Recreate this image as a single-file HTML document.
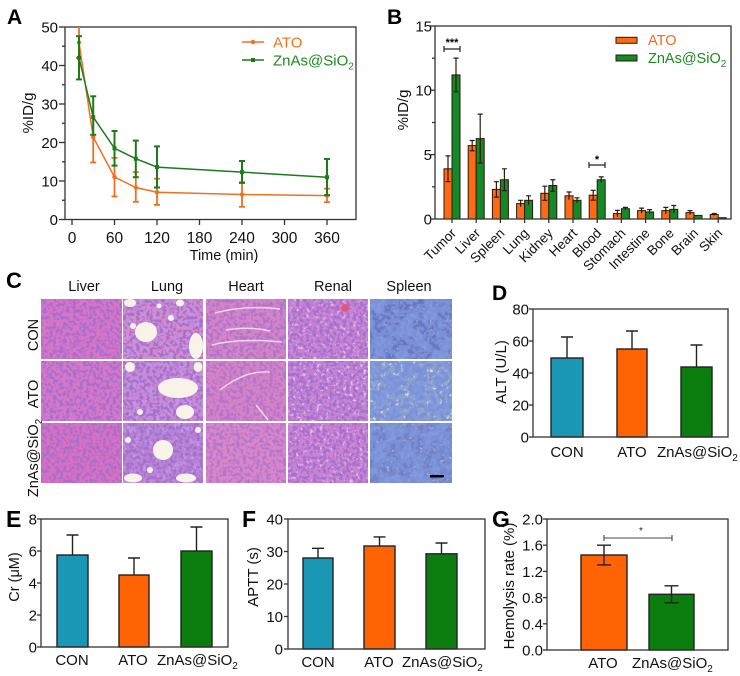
<!DOCTYPE html>
<html><head><meta charset="utf-8"><style>
html,body{margin:0;padding:0;background:#fff;}
svg{display:block;}
text{font-family:"Liberation Sans",Arial,sans-serif;}
</style></head><body>
<svg width="740" height="676" viewBox="0 0 740 676" xmlns="http://www.w3.org/2000/svg">
<defs>
<filter id="sp" x="0" y="0" width="1" height="1">
<feTurbulence type="fractalNoise" baseFrequency="0.3" numOctaves="2" seed="3"/>
<feColorMatrix type="matrix" values="0 0 0 0 0.38  0 0 0 0 0.16  0 0 0 0 0.62  6 0 0 0 -2.7"/>
</filter>
<filter id="sp2" x="0" y="0" width="1" height="1">
<feTurbulence type="fractalNoise" baseFrequency="0.15" numOctaves="2" seed="5"/>
<feColorMatrix type="matrix" values="0 0 0 0 0.55  0 0 0 0 0.3  0 0 0 0 0.8  0 5 0 0 -2.4"/>
</filter>
<filter id="wh" x="0" y="0" width="1" height="1">
<feTurbulence type="fractalNoise" baseFrequency="0.3" numOctaves="2" seed="7"/>
<feColorMatrix type="matrix" values="0 0 0 0 1  0 0 0 0 0.95  0 0 0 0 1  0 5 0 0 -2.8"/>
</filter>
<filter id="bl" x="0" y="0" width="1" height="1">
<feTurbulence type="fractalNoise" baseFrequency="0.22" numOctaves="2" seed="11"/>
<feColorMatrix type="matrix" values="0 0 0 0 0.2  0 0 0 0 0.28  0 0 0 0 0.68  6 0 0 0 -2.6"/>
</filter>
<filter id="bl2" x="0" y="0" width="1" height="1">
<feTurbulence type="fractalNoise" baseFrequency="0.08" numOctaves="2" seed="21"/>
<feColorMatrix type="matrix" values="0 0 0 0 0.22  0 0 0 0 0.32  0 0 0 0 0.72  7 0 0 0 -3.1"/>
</filter>
</defs>
<rect width="740" height="676" fill="#fff"/>

<!-- ============ PANEL A ============ -->
<text x="7" y="24" font-size="21" font-weight="bold">A</text>
<rect x="65" y="27" width="291" height="192.5" fill="none" stroke="#333" stroke-width="1.3"/>
<g stroke="#333" stroke-width="1.3">
<line x1="59" y1="219.5" x2="65" y2="219.5"/><line x1="59" y1="181" x2="65" y2="181"/><line x1="59" y1="142.5" x2="65" y2="142.5"/><line x1="59" y1="104" x2="65" y2="104"/><line x1="59" y1="65.5" x2="65" y2="65.5"/><line x1="59" y1="27" x2="65" y2="27"/>
<line x1="62" y1="200.25" x2="65" y2="200.25"/><line x1="62" y1="161.75" x2="65" y2="161.75"/><line x1="62" y1="123.25" x2="65" y2="123.25"/><line x1="62" y1="84.75" x2="65" y2="84.75"/><line x1="62" y1="46.25" x2="65" y2="46.25"/>
<line x1="72" y1="219.5" x2="72" y2="225"/><line x1="114.5" y1="219.5" x2="114.5" y2="225"/><line x1="157" y1="219.5" x2="157" y2="225"/><line x1="199.5" y1="219.5" x2="199.5" y2="225"/><line x1="242" y1="219.5" x2="242" y2="225"/><line x1="284.5" y1="219.5" x2="284.5" y2="225"/><line x1="327" y1="219.5" x2="327" y2="225"/>
</g>
<g font-size="15" text-anchor="end" fill="#111">
<text x="58" y="225">0</text><text x="58" y="186.5">10</text><text x="58" y="148">20</text><text x="58" y="109.5">30</text><text x="58" y="71">40</text><text x="58" y="32.5">50</text>
</g>
<g font-size="15.5" text-anchor="middle" fill="#111">
<text x="72" y="243">0</text><text x="114.5" y="243">60</text><text x="157" y="243">120</text><text x="199.5" y="243">180</text><text x="242" y="243">240</text><text x="284.5" y="243">300</text><text x="327" y="243">360</text>
</g>
<text x="224" y="260" font-size="14.5" text-anchor="middle" fill="#111">Time (min)</text>
<text transform="translate(33,113) rotate(-90)" font-size="15" text-anchor="middle" fill="#111">%ID/g</text>
<!-- ATO series -->
<g stroke="#f07022" stroke-width="1.8" fill="none">
<polyline points="79,42.4 93.2,137.1 114.5,177.1 135.8,187.5 157,192.2 242,194.5 327,195.6" stroke-width="1.5"/>
<line x1="79" y1="27" x2="79" y2="57.8"/><line x1="76" y1="57.8" x2="82" y2="57.8"/>
<line x1="93.2" y1="111.7" x2="93.2" y2="162.5"/><line x1="90.2" y1="162.5" x2="96.2" y2="162.5"/>
<line x1="114.5" y1="157.9" x2="114.5" y2="196.4"/><line x1="111.5" y1="196.4" x2="117.5" y2="196.4"/><line x1="111.5" y1="157.9" x2="117.5" y2="157.9"/>
<line x1="135.8" y1="172.1" x2="135.8" y2="201.8"/><line x1="132.8" y1="201.8" x2="138.8" y2="201.8"/><line x1="132.8" y1="172.1" x2="138.8" y2="172.1"/>
<line x1="157" y1="178.7" x2="157" y2="204.9"/><line x1="154" y1="204.9" x2="160" y2="204.9"/><line x1="154" y1="178.7" x2="160" y2="178.7"/>
<line x1="242" y1="182.2" x2="242" y2="206.8"/><line x1="239" y1="206.8" x2="245" y2="206.8"/><line x1="239" y1="182.2" x2="245" y2="182.2"/>
<line x1="327" y1="188.7" x2="327" y2="202.2"/><line x1="324" y1="202.2" x2="330" y2="202.2"/><line x1="324" y1="188.7" x2="330" y2="188.7"/>
</g>
<g fill="#f07022">
<circle cx="79" cy="42.4" r="2.2"/><circle cx="93.2" cy="137.1" r="2.2"/><circle cx="114.5" cy="177.1" r="2.2"/><circle cx="135.8" cy="187.5" r="2.2"/><circle cx="157" cy="192.2" r="2.2"/><circle cx="242" cy="194.5" r="2.2"/><circle cx="327" cy="195.6" r="2.2"/>
</g>
<!-- Zn series -->
<g stroke="#1d7a1d" stroke-width="2" fill="none">
<polyline points="79,57.8 93.2,117.1 114.5,148.3 135.8,158.7 157,167.1 242,172.1 327,177.2" stroke-width="1.5"/>
<line x1="79" y1="36.2" x2="79" y2="79.4"/><line x1="76" y1="36.2" x2="82" y2="36.2"/><line x1="76" y1="79.4" x2="82" y2="79.4"/>
<line x1="93.2" y1="96.3" x2="93.2" y2="134.8"/><line x1="90.2" y1="96.3" x2="96.2" y2="96.3"/><line x1="90.2" y1="134.8" x2="96.2" y2="134.8"/>
<line x1="114.5" y1="131" x2="114.5" y2="165.6"/><line x1="111.5" y1="131" x2="117.5" y2="131"/><line x1="111.5" y1="165.6" x2="117.5" y2="165.6"/>
<line x1="135.8" y1="140.6" x2="135.8" y2="177.2"/><line x1="132.8" y1="140.6" x2="138.8" y2="140.6"/><line x1="132.8" y1="177.2" x2="138.8" y2="177.2"/>
<line x1="157" y1="146.4" x2="157" y2="187.5"/><line x1="154" y1="146.4" x2="160" y2="146.4"/><line x1="154" y1="187.5" x2="160" y2="187.5"/>
<line x1="242" y1="161" x2="242" y2="182.9"/><line x1="239" y1="161" x2="245" y2="161"/><line x1="239" y1="182.9" x2="245" y2="182.9"/>
<line x1="327" y1="159" x2="327" y2="195.2"/><line x1="324" y1="159" x2="330" y2="159"/><line x1="324" y1="195.2" x2="330" y2="195.2"/>
</g>
<g fill="#1d7a1d">
<rect x="77" y="55.8" width="4" height="4"/><rect x="91.2" y="115.1" width="4" height="4"/><rect x="112.5" y="146.3" width="4" height="4"/><rect x="133.8" y="156.7" width="4" height="4"/><rect x="155" y="165.1" width="4" height="4"/><rect x="240" y="170.1" width="4" height="4"/><rect x="325" y="175.2" width="4" height="4"/>
</g>
<!-- legend A -->
<line x1="242" y1="42" x2="264" y2="42" stroke="#f07022" stroke-width="1.5"/><circle cx="253" cy="42" r="2.2" fill="#f07022"/>
<text x="273" y="47.5" font-size="15" fill="#f07022">ATO</text>
<line x1="242" y1="60" x2="264" y2="60" stroke="#1d7a1d" stroke-width="1.5"/><rect x="251" y="58" width="4" height="4" fill="#1d7a1d"/>
<text x="273" y="65.5" font-size="15" fill="#1d8a1d">ZnAs@SiO<tspan font-size="10" dy="4">2</tspan></text>

<!-- ============ PANEL B ============ -->
<text x="387" y="24" font-size="21" font-weight="bold">B</text>
<g font-size="15" text-anchor="end" fill="#111">
<text x="432" y="224.5">0</text><text x="432" y="160">5</text><text x="432" y="95.5">10</text><text x="432" y="31.5">15</text>
</g>
<g stroke="#333" stroke-width="1.3">
<line x1="430" y1="219" x2="435" y2="219"/><line x1="430" y1="154.6" x2="435" y2="154.6"/><line x1="430" y1="90.3" x2="435" y2="90.3"/><line x1="430" y1="26" x2="435" y2="26"/>
<line x1="432" y1="186.8" x2="435" y2="186.8"/><line x1="432" y1="122.5" x2="435" y2="122.5"/><line x1="432" y1="58.2" x2="435" y2="58.2"/>
</g>
<text transform="translate(408,110) rotate(-90)" font-size="15" text-anchor="middle" fill="#111">%ID/g</text>
<g stroke="#2a1a10" stroke-width="1">
<g fill="#ff6a12">
<rect x="444" y="168.8" width="8" height="50.2"/><rect x="468.2" y="145.6" width="8" height="73.4"/><rect x="492.4" y="189.4" width="8" height="29.6"/><rect x="516.6" y="203.6" width="8" height="15.4"/><rect x="540.8" y="193.3" width="8" height="25.7"/><rect x="565" y="195.8" width="8" height="23.2"/><rect x="589.2" y="195.2" width="8" height="23.8"/><rect x="613.4" y="213.6" width="8" height="5.4"/><rect x="637.6" y="210.6" width="8" height="8.4"/><rect x="661.8" y="210.6" width="8" height="8.4"/><rect x="686" y="212.6" width="8" height="6.4"/><rect x="710.2" y="214.5" width="8" height="4.5"/>
</g>
<g fill="#138a26">
<rect x="452" y="74.9" width="8" height="144.1"/><rect x="476.2" y="138.6" width="8" height="80.4"/><rect x="500.4" y="179.75" width="8" height="39.25"/><rect x="524.6" y="200.3" width="8" height="18.7"/><rect x="548.8" y="185.5" width="8" height="33.5"/><rect x="573" y="200.3" width="8" height="18.7"/><rect x="597.2" y="179.75" width="8" height="39.25"/><rect x="621.4" y="208.7" width="8" height="10.3"/><rect x="645.6" y="211.9" width="8" height="7.1"/><rect x="669.8" y="209.35" width="8" height="9.65"/><rect x="694" y="215.4" width="8" height="3.6"/><rect x="718.2" y="217.7" width="8" height="1.3"/>
</g>
</g>
<g stroke="#2a1a10" stroke-width="1.2" fill="none">
<path d="M448 155.9V181.7M445.5 155.9H450.5M445.5 181.7H450.5"/>
<path d="M456 58.1V91.6M453.5 58.1H458.5M453.5 91.6H458.5"/>
<path d="M472.2 140.5V150.8M469.7 140.5H474.7M469.7 150.8H474.7"/>
<path d="M480.2 114.1V163M477.7 114.1H482.7M477.7 163H482.7"/>
<path d="M496.4 181.7V197.1M493.9 181.7H498.9M493.9 197.1H498.9"/>
<path d="M504.4 168.8V190.7M501.9 168.8H506.9M501.9 190.7H506.9"/>
<path d="M520.6 200.3V206.8M518.1 200.3H523.1"/>
<path d="M528.6 195.8V204.8M526.1 195.8H531.1"/>
<path d="M544.8 186.2V200.3M542.3 186.2H547.3M542.3 200.3H547.3"/>
<path d="M552.8 179.75V191.3M550.3 179.75H555.3M550.3 191.3H555.3"/>
<path d="M569 192V199.7M566.5 192H571.5"/>
<path d="M577 197.8V202.9M574.5 197.8H579.5"/>
<path d="M593.2 190.3V200.1M590.7 190.3H595.7M590.7 200.1H595.7"/>
<path d="M601.2 176.9V182.6M598.7 176.9H603.7"/>
<path d="M617.4 210.4V216.8M614.9 210.4H619.9"/>
<path d="M625.4 207.4V210M622.9 207.4H627.9"/>
<path d="M641.6 208.1V213.2M639.1 208.1H644.1"/>
<path d="M649.6 209.6V214.2M647.1 209.6H652.1"/>
<path d="M665.8 207.4V213.9M663.3 207.4H668.3"/>
<path d="M673.8 205.5V213.2M671.3 205.5H676.3"/>
<path d="M690 210.6V214.5M687.5 210.6H692.5"/>
<path d="M714.2 213.5V215.5M711.7 213.5H716.7"/>
</g>
<rect x="435" y="26" width="296" height="193" fill="none" stroke="#333" stroke-width="1.3"/>
<g stroke="#333" stroke-width="1.3">
<line x1="452" y1="219" x2="452" y2="223"/><line x1="476.2" y1="219" x2="476.2" y2="223"/><line x1="500.4" y1="219" x2="500.4" y2="223"/><line x1="524.6" y1="219" x2="524.6" y2="223"/><line x1="548.8" y1="219" x2="548.8" y2="223"/><line x1="573" y1="219" x2="573" y2="223"/><line x1="597.2" y1="219" x2="597.2" y2="223"/><line x1="621.4" y1="219" x2="621.4" y2="223"/><line x1="645.6" y1="219" x2="645.6" y2="223"/><line x1="669.8" y1="219" x2="669.8" y2="223"/><line x1="694" y1="219" x2="694" y2="223"/><line x1="718.2" y1="219" x2="718.2" y2="223"/>
</g>
<g font-size="13.5" text-anchor="end" fill="#111">
<text transform="translate(457,234) rotate(-45)">Tumor</text>
<text transform="translate(481.2,234) rotate(-45)">Liver</text>
<text transform="translate(505.4,234) rotate(-45)">Spleen</text>
<text transform="translate(529.6,234) rotate(-45)">Lung</text>
<text transform="translate(553.8,234) rotate(-45)">Kidney</text>
<text transform="translate(578,234) rotate(-45)">Heart</text>
<text transform="translate(602.2,234) rotate(-45)">Blood</text>
<text transform="translate(626.4,234) rotate(-45)">Stomach</text>
<text transform="translate(650.6,234) rotate(-45)">Intestine</text>
<text transform="translate(674.8,234) rotate(-45)">Bone</text>
<text transform="translate(699,234) rotate(-45)">Brain</text>
<text transform="translate(723.2,234) rotate(-45)">Skin</text>
</g>
<!-- significance B -->
<path d="M444 49H460M444 46V52M460 46V52" stroke="#222" stroke-width="1.2" fill="none"/>
<text x="452" y="46" font-size="11" font-weight="bold" text-anchor="middle">***</text>
<path d="M589 165H605M589 162V168M605 162V168" stroke="#222" stroke-width="1.2" fill="none"/>
<text x="597" y="163" font-size="11" font-weight="bold" text-anchor="middle">*</text>
<!-- legend B -->
<rect x="616" y="37.3" width="21" height="6" fill="#ff6a12" stroke="#2a1a10" stroke-width="1"/>
<text x="648" y="45" font-size="14.5" fill="#f06a18">ATO</text>
<rect x="616" y="55" width="21" height="6" fill="#138a26" stroke="#2a1a10" stroke-width="1"/>
<text x="648" y="63" font-size="14.5" fill="#1d8a1d">ZnAs@SiO<tspan font-size="10" dy="4">2</tspan></text>

<!-- ============ PANEL C ============ -->
<text x="6" y="288" font-size="22" font-weight="bold">C</text>
<g font-size="14.5" text-anchor="middle" fill="#111">
<text x="84" y="291">Liver</text><text x="167" y="291">Lung</text><text x="246" y="291">Heart</text><text x="333" y="291">Renal</text><text x="409" y="291">Spleen</text>
</g>
<g font-size="14.5" text-anchor="middle" fill="#111">
<text transform="translate(38,335) rotate(-90)">CON</text>
<text transform="translate(38,394) rotate(-90)">ATO</text>
<text transform="translate(38,458) rotate(-90)">ZnAs@SiO<tspan font-size="10" dy="4">2</tspan></text>
</g>
<!-- tiles row 1 -->
<rect x="41" y="299" width="81" height="60" fill="#d974c6"/><rect x="41" y="299" width="81" height="60" filter="url(#sp)"/>
<rect x="123" y="299" width="80" height="60" fill="#d58ccc"/><rect x="123" y="299" width="80" height="60" filter="url(#sp2)"/><rect x="123" y="299" width="80" height="60" filter="url(#sp)"/>
<rect x="206" y="299" width="80" height="60" fill="#d585c6"/><rect x="206" y="299" width="80" height="60" filter="url(#sp)" opacity="0.8"/>
<rect x="288" y="299" width="80" height="60" fill="#c983d2"/><rect x="288" y="299" width="80" height="60" filter="url(#wh)" opacity="0.5"/><rect x="288" y="299" width="80" height="60" filter="url(#sp)"/>
<rect x="370" y="299" width="82" height="60" fill="#6676c2"/><rect x="370" y="299" width="82" height="60" filter="url(#wh)" opacity="0.4"/><rect x="370" y="299" width="82" height="60" filter="url(#bl2)"/><rect x="370" y="299" width="82" height="60" filter="url(#bl)"/>
<!-- tiles row 2 -->
<rect x="41" y="361" width="81" height="60" fill="#d877c8"/><rect x="41" y="361" width="81" height="60" filter="url(#sp)"/>
<rect x="123" y="361" width="80" height="60" fill="#c98bd3"/><rect x="123" y="361" width="80" height="60" filter="url(#sp2)"/><rect x="123" y="361" width="80" height="60" filter="url(#sp)"/>
<rect x="206" y="361" width="80" height="60" fill="#d683c6"/><rect x="206" y="361" width="80" height="60" filter="url(#sp)" opacity="0.7"/>
<rect x="288" y="361" width="80" height="60" fill="#c683d3"/><rect x="288" y="361" width="80" height="60" filter="url(#wh)" opacity="0.6"/><rect x="288" y="361" width="80" height="60" filter="url(#sp)"/>
<rect x="370" y="361" width="82" height="60" fill="#8ea3cc"/><rect x="370" y="361" width="82" height="60" filter="url(#wh)" opacity="0.7"/><rect x="370" y="361" width="82" height="60" filter="url(#bl2)"/><rect x="370" y="361" width="82" height="60" filter="url(#bl)"/>
<!-- tiles row 3 -->
<rect x="41" y="423" width="81" height="60" fill="#db6fc0"/><rect x="41" y="423" width="81" height="60" filter="url(#sp)"/>
<rect x="123" y="423" width="80" height="60" fill="#b783d4"/><rect x="123" y="423" width="80" height="60" filter="url(#sp2)"/><rect x="123" y="423" width="80" height="60" filter="url(#sp)"/>
<rect x="206" y="423" width="80" height="60" fill="#d887c9"/><rect x="206" y="423" width="80" height="60" filter="url(#sp)" opacity="0.7"/>
<rect x="288" y="423" width="80" height="60" fill="#cb83d2"/><rect x="288" y="423" width="80" height="60" filter="url(#wh)" opacity="0.5"/><rect x="288" y="423" width="80" height="60" filter="url(#sp)"/>
<rect x="370" y="423" width="82" height="60" fill="#7080c4"/><rect x="370" y="423" width="82" height="60" filter="url(#wh)" opacity="0.45"/><rect x="370" y="423" width="82" height="60" filter="url(#bl2)"/><rect x="370" y="423" width="82" height="60" filter="url(#bl)"/>
<!-- lung white areas -->
<g fill="#f8f3e8">
<ellipse cx="146" cy="332" rx="11" ry="10"/><ellipse cx="196" cy="346" rx="7" ry="13"/><ellipse cx="180" cy="303" rx="4" ry="3.5"/><ellipse cx="130" cy="303" rx="6" ry="4"/><circle cx="133" cy="326" r="3"/><circle cx="171" cy="318" r="3"/><circle cx="159" cy="306" r="2.5"/>
<ellipse cx="178" cy="388" rx="20" ry="10"/><ellipse cx="185" cy="412" rx="9" ry="7"/><ellipse cx="130" cy="367" rx="5" ry="5"/><ellipse cx="198" cy="367" rx="4.5" ry="5"/><circle cx="140" cy="412" r="3"/>
<circle cx="163" cy="450" r="10"/><ellipse cx="133" cy="478" rx="9" ry="4.5"/><ellipse cx="186" cy="478" rx="10" ry="4.5"/><circle cx="128" cy="440" r="3"/><circle cx="198" cy="430" r="3"/><circle cx="150" cy="470" r="3"/>
</g>
<!-- heart streaks -->
<g stroke="#f4e6f0" stroke-width="1.5" fill="none" opacity="0.85">
<path d="M212 345 Q240 338 282 342"/><path d="M226 330 Q250 326 270 331"/><path d="M215 313 Q245 305 280 309"/>
<path d="M220 390 Q245 370 270 372"/><path d="M256 405 Q262 412 268 420"/>
</g>
<circle cx="345" cy="308" r="4" fill="#e8557a"/>
<rect x="430" y="475" width="14" height="2.5" fill="#000"/>

<!-- ============ PANEL D ============ -->
<text x="492" y="300" font-size="21" font-weight="bold">D</text>
<g font-size="15" text-anchor="end" fill="#111">
<text x="529" y="442.5">0</text><text x="529" y="410.5">20</text><text x="529" y="378.5">40</text><text x="529" y="346.5">60</text><text x="529" y="314.5">80</text>
</g>
<g stroke="#333" stroke-width="1.3">
<line x1="529" y1="437" x2="533" y2="437"/><line x1="529" y1="405" x2="533" y2="405"/><line x1="529" y1="373" x2="533" y2="373"/><line x1="529" y1="341" x2="533" y2="341"/><line x1="529" y1="309" x2="533" y2="309"/>
</g>
<text transform="translate(506,372) rotate(-90)" font-size="15" text-anchor="middle" fill="#111">ALT (U/L)</text>
<g stroke="#222" stroke-width="1.4">
<path d="M567 358V337M561 337H573" fill="none"/>
<path d="M632 349V331M626 331H638" fill="none"/>
<path d="M696.5 367V345M690.5 345H702.5" fill="none"/>
<rect x="551" y="358" width="32" height="79" fill="#1b97b6"/>
<rect x="617" y="349" width="30" height="88" fill="#ff6303"/>
<rect x="681" y="367" width="31" height="70" fill="#0a7d0e"/>
</g>
<rect x="533" y="309" width="195" height="128" fill="none" stroke="#333" stroke-width="1.3"/>
<g font-size="15" fill="#111">
<text x="567" y="457" text-anchor="middle">CON</text><text x="632" y="457" text-anchor="middle">ATO</text><text x="657" y="457">ZnAs@SiO<tspan font-size="10" dy="4">2</tspan></text>
</g>

<!-- ============ PANEL E ============ -->
<text x="6" y="527" font-size="23" font-weight="bold">E</text>
<g font-size="15" text-anchor="end" fill="#111">
<text x="37" y="652.5">0</text><text x="37" y="620.5">2</text><text x="37" y="588.5">4</text><text x="37" y="556.5">6</text><text x="37" y="524.5">8</text>
</g>
<g stroke="#333" stroke-width="1.3">
<line x1="37" y1="647" x2="41" y2="647"/><line x1="37" y1="615" x2="41" y2="615"/><line x1="37" y1="583" x2="41" y2="583"/><line x1="37" y1="551" x2="41" y2="551"/><line x1="37" y1="519" x2="41" y2="519"/>
</g>
<text transform="translate(19,577) rotate(-90)" font-size="14.5" text-anchor="middle" fill="#111">Cr (μM)</text>
<g stroke="#222" stroke-width="1.4">
<path d="M72.5 555V535M66.5 535H78.5" fill="none"/>
<path d="M134 575V558M128 558H140" fill="none"/>
<path d="M196.5 551V527M190.5 527H202.5" fill="none"/>
<rect x="57" y="555" width="31" height="92" fill="#1b97b6"/>
<rect x="119" y="575" width="30" height="72" fill="#ff6303"/>
<rect x="181" y="551" width="31" height="96" fill="#0a7d0e"/>
</g>
<rect x="41" y="519" width="187" height="128" fill="none" stroke="#333" stroke-width="1.3"/>
<g font-size="15" fill="#111">
<text x="72" y="665" text-anchor="middle">CON</text><text x="133" y="665" text-anchor="middle">ATO</text><text x="157" y="665">ZnAs@SiO<tspan font-size="10" dy="4">2</tspan></text>
</g>

<!-- ============ PANEL F ============ -->
<text x="242" y="527" font-size="23" font-weight="bold">F</text>
<g font-size="15" text-anchor="end" fill="#111">
<text x="283" y="654.5">0</text><text x="283" y="622">10</text><text x="283" y="589.5">20</text><text x="283" y="557">30</text><text x="283" y="524.5">40</text>
</g>
<g stroke="#333" stroke-width="1.3">
<line x1="284" y1="649" x2="288" y2="649"/><line x1="284" y1="616.5" x2="288" y2="616.5"/><line x1="284" y1="584" x2="288" y2="584"/><line x1="284" y1="551.5" x2="288" y2="551.5"/><line x1="284" y1="519" x2="288" y2="519"/>
</g>
<text transform="translate(258,577) rotate(-90)" font-size="15" text-anchor="middle" fill="#111">APTT (s)</text>
<g stroke="#222" stroke-width="1.4">
<path d="M318 558V548.3M312 548.3H324" fill="none"/>
<path d="M379.5 546V536.9M373.5 536.9H385.5" fill="none"/>
<path d="M441.5 553.8V543M435.5 543H447.5" fill="none"/>
<rect x="303" y="558" width="30" height="91" fill="#1b97b6"/>
<rect x="364" y="546" width="31" height="103" fill="#ff6303"/>
<rect x="426" y="553.8" width="31" height="95.2" fill="#0a7d0e"/>
</g>
<rect x="288" y="519" width="197" height="130" fill="none" stroke="#333" stroke-width="1.3"/>
<g font-size="15" fill="#111">
<text x="318" y="667" text-anchor="middle">CON</text><text x="379" y="667" text-anchor="middle">ATO</text><text x="402" y="667">ZnAs@SiO<tspan font-size="10" dy="4">2</tspan></text>
</g>

<!-- ============ PANEL G ============ -->
<text x="492" y="527" font-size="23" font-weight="bold">G</text>
<g font-size="15" text-anchor="end" fill="#111">
<text x="543" y="655.5">0.0</text><text x="543" y="629.3">0.4</text><text x="543" y="603.1">0.8</text><text x="543" y="576.9">1.2</text><text x="543" y="550.7">1.6</text><text x="543" y="524.5">2.0</text>
</g>
<g stroke="#333" stroke-width="1.3">
<line x1="543" y1="650" x2="547" y2="650"/><line x1="543" y1="623.8" x2="547" y2="623.8"/><line x1="543" y1="597.6" x2="547" y2="597.6"/><line x1="543" y1="571.4" x2="547" y2="571.4"/><line x1="543" y1="545.2" x2="547" y2="545.2"/><line x1="543" y1="519" x2="547" y2="519"/>
</g>
<text transform="translate(514,586) rotate(-90)" font-size="15" text-anchor="middle" fill="#111">Hemolysis rate (%)</text>
<g stroke="#222" stroke-width="1.4">
<rect x="581" y="555" width="46" height="95" fill="#ff6303"/>
<rect x="649" y="594.3" width="45" height="55.7" fill="#0a7d0e"/>
<path d="M604 545.2V564.9M597 545.2H611M597 564.9H611" fill="none"/>
<path d="M671.5 585.8V602.8M664.5 585.8H678.5M664.5 602.8H678.5" fill="none"/>
</g>
<path d="M604 538H672M604 535V541M672 535V541" stroke="#444" stroke-width="1.1" fill="none"/>
<text x="641" y="534" font-size="10" text-anchor="middle" fill="#222">*</text>
<rect x="547" y="519" width="181" height="131" fill="none" stroke="#333" stroke-width="1.3"/>
<g font-size="15" fill="#111">
<text x="603" y="668" text-anchor="middle">ATO</text><text x="632" y="668">ZnAs@SiO<tspan font-size="10" dy="4">2</tspan></text>
</g>
</svg>
</body></html>
